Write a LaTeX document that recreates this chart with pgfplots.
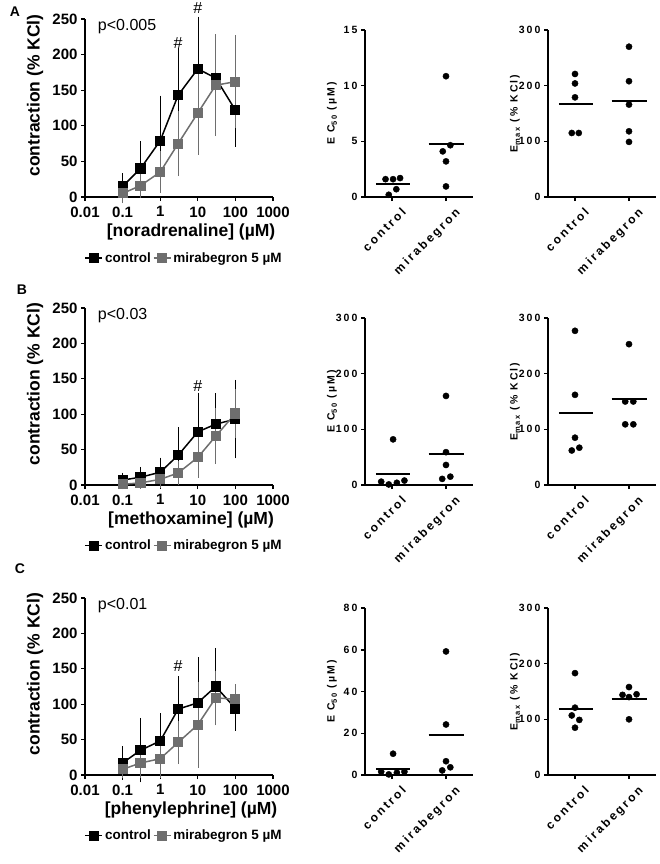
\documentclass[border=0pt]{standalone}
\usepackage{fontspec}
\setmainfont{Liberation Sans}
\newfontfamily\spacedfont[LetterSpace=20]{Liberation Sans}
\usepackage{pgfplots}
\usepackage{pgfplotstable}
\pgfplotsset{compat=1.18}
\definecolor{mgray}{RGB}{110,110,110}

% ---------- Data: concentration-response curves (mean, SD) ----------
\pgfplotstableread{
x y e
0.1 15 15
0.3 40 35
1 79 60
3 143 63
10 180 70
30 167 58
100 122 48
}\ctlA
\pgfplotstableread{
x y e
0.1 5 10
0.3 16 14
1 35 26
3 75 42
10 118 55
30 157 68
100 162 62
}\mirA
\pgfplotstableread{
x y e
0.1 7 7
0.3 11 11
1 18 17
3 42 36
10 75 52
30 86 40
100 93 52
}\ctlB
\pgfplotstableread{
x y e
0.1 1 3
0.3 3 5
1 8 9
3 17 14
10 39 25
30 69 36
100 101 31
}\mirB
\pgfplotstableread{
x y e
0.1 17 20
0.3 35 42
1 48 36
3 93 43
10 102 61
30 125 51
100 94 28
}\ctlC
\pgfplotstableread{
x y e
0.1 8 8
0.3 17 17
1 23 23
3 46 27
10 71 57
30 109 35
100 107 18
}\mirC

\pgfplotsset{
  leftax/.style={
    scale only axis, width=188pt, height=178pt,
    xmin=0.01, xmax=1000, ymin=0, ymax=250,
    axis x line=bottom, axis y line=left,
    axis line style={line width=1.3pt,-},
    tick style={line width=1.3pt,black},
    tick align=outside, major tick length=4pt,
    xminorticks=false, yminorticks=false,
    xtick={0.01,0.1,1,10,100,1000},
    xticklabels={0.01,0.1,1,10,100,1000},
    ytick={0,50,100,150,200,250},
    yticklabels={0,50,100,150,200,250},
    tick label style={font=\bfseries\fontsize{15}{15}\selectfont},
    xticklabel style={yshift=-2pt},
    label style={font=\bfseries\fontsize{17.5}{18}\selectfont},
    ylabel={contraction (\% KCl)},
    ylabel style={at={(rel axis cs:0,0.57)}, anchor=center, yshift=50pt},
    xlabel style={at={(rel axis cs:0.564,0)}, anchor=center, yshift=-35pt},
    clip=false,
    legend columns=2,
    legend style={at={(0.527,-0.343)}, anchor=center, draw=none, fill=none,
      font=\bfseries\fontsize{13.5}{14}\selectfont},
  },
  ctl/.style={black, line width=1.5pt, mark=square*, mark size=4.3pt,
    mark options={solid, fill=black},
    error bars/y dir=both, error bars/y explicit,
    error bars/error bar style={line width=0.6pt, black},
    error bars/error mark options={line width=0.6pt, black, mark size=2.5pt}},
  mir/.style={mgray, line width=1.5pt, mark=square*, mark size=4.3pt,
    mark options={solid, fill=mgray},
    error bars/y dir=both, error bars/y explicit,
    error bars/error bar style={line width=0.6pt, mgray},
    error bars/error mark options={line width=0.6pt, mgray, mark size=2.5pt}},
  rightax/.style={
    scale only axis, width=108pt, height=167pt,
    xmin=0.5, xmax=2.5, ymin=0,
    axis x line=bottom, axis y line=left,
    axis line style={line width=1.9pt,-},
    tick style={line width=1.5pt,black},
    tick align=outside, major tick length=4pt,
    xtick={1,2}, xticklabels={control,mirabegron},
    xticklabel style={rotate=45, anchor=north east, inner sep=0pt,
      yshift=-10pt, xshift=2pt,
      font=\spacedfont\bfseries\fontsize{12}{12}\selectfont},
    yticklabel style={font=\spacedfont\bfseries\fontsize{10.5}{10.5}\selectfont},
    ylabel style={at={(rel axis cs:0,0.5)}, anchor=center, yshift=33pt,
      font=\spacedfont\bfseries\fontsize{10.5}{12}\selectfont},
    clip=false,
  },
  dots/.style={only marks, mark=*, mark size=3.1pt, black},
  meanline/.style={black, line width=2pt},
}
\newcommand{\ecl}{E C\raisebox{-0.4ex}{\fontsize{7.5}{7.5}\selectfont 50} (µM)}
\newcommand{\eml}{E\raisebox{-0.4ex}{\fontsize{7.5}{7.5}\selectfont max} (\% KCl)}

\begin{document}
\begin{tikzpicture}
\useasboundingbox (0,0) rectangle (659pt,-864pt);

% panel letters
\node[font=\bfseries\fontsize{14}{14}\selectfont] at (15pt,-12pt) {A};
\node[font=\bfseries\fontsize{14}{14}\selectfont] at (22pt,-290pt) {B};
\node[font=\bfseries\fontsize{14}{14}\selectfont] at (20pt,-569pt) {C};

% ================= Row A =================
\begin{axis}[xmode=log, leftax, at={(85pt,-197pt)}, anchor=south west,
  xlabel={[noradrenaline] (µM)}]
\addplot+[ctl] table[x=x,y=y,y error=e] {\ctlA};
\addlegendentry{control}
\addplot+[mir] table[x=x,y=y,y error=e] {\mirA};
\addlegendentry{mirabegron 5 µM}
\node[anchor=west, font=\fontsize{16}{16}\selectfont] at (rel axis cs:0.05,0.955) {p<0.005};
\node[font=\fontsize{16}{16}\selectfont] at (axis cs:3,216) {\#};
\node[font=\fontsize{16}{16}\selectfont] at (axis cs:10,265) {\#};
\end{axis}

\begin{axis}[rightax, at={(365pt,-197pt)}, anchor=south west,
  ymax=15, ytick={0,5,10,15}, yticklabels={0,5,10,15}, ylabel={\ecl}]
\addplot[dots] coordinates {(0.88,1.6) (1.02,1.6) (1.15,1.7) (1.08,0.7) (0.94,0.2)
  (2,10.85) (1.94,4.1) (2.08,4.65) (2,3.2) (2,0.95)};
\addplot[meanline] coordinates {(0.7,1.17) (1.33,1.17)};
\addplot[meanline] coordinates {(1.68,4.75) (2.33,4.75)};
\end{axis}

\begin{axis}[rightax, at={(548pt,-197pt)}, anchor=south west,
  ymax=300, ytick={0,100,200,300}, yticklabels={0,100,200,300}, ylabel={\eml}]
\addplot[dots] coordinates {(1,221) (1,204) (1,179) (0.94,115) (1.07,115)
  (2,270) (2,208) (2,166) (2,118) (2,99)};
\addplot[meanline] coordinates {(0.7,167) (1.33,167)};
\addplot[meanline] coordinates {(1.68,173) (2.33,173)};
\end{axis}

% ================= Row B =================
\begin{axis}[xmode=log, leftax, at={(85pt,-485pt)}, anchor=south west, height=177pt,
  xlabel={[methoxamine] (µM)}]
\addplot+[ctl] table[x=x,y=y,y error=e] {\ctlB};
\addlegendentry{control}
\addplot+[mir] table[x=x,y=y,y error=e] {\mirB};
\addlegendentry{mirabegron 5 µM}
\node[anchor=west, font=\fontsize{16}{16}\selectfont] at (rel axis cs:0.05,0.955) {p<0.03};
\node[font=\fontsize{16}{16}\selectfont] at (axis cs:10,140) {\#};
\end{axis}

\begin{axis}[rightax, at={(365pt,-485pt)}, anchor=south west,
  ymax=300, ytick={0,100,200,300}, yticklabels={0,100,200,300}, ylabel={\ecl}]
\addplot[dots] coordinates {(1.02,82) (0.8,6) (0.94,1) (1.09,4) (1.23,8)
  (2,160) (2,59) (2,36) (1.93,11) (2.08,15)};
\addplot[meanline] coordinates {(0.7,20) (1.33,20)};
\addplot[meanline] coordinates {(1.68,56) (2.33,56)};
\end{axis}

\begin{axis}[rightax, at={(548pt,-485pt)}, anchor=south west,
  ymax=300, ytick={0,100,200,300}, yticklabels={0,100,200,300}, ylabel={\eml}]
\addplot[dots] coordinates {(1,277) (1,162) (1,85) (0.94,62) (1.08,67)
  (2,253) (1.93,150) (2.08,150) (1.93,109) (2.08,109)};
\addplot[meanline] coordinates {(0.7,130) (1.33,130)};
\addplot[meanline] coordinates {(1.68,154) (2.33,154)};
\end{axis}

% ================= Row C =================
\begin{axis}[xmode=log, leftax, at={(85pt,-775pt)}, anchor=south west, height=177pt,
  xlabel={[phenylephrine] (µM)}]
\addplot+[ctl] table[x=x,y=y,y error=e] {\ctlC};
\addlegendentry{control}
\addplot+[mir] table[x=x,y=y,y error=e] {\mirC};
\addlegendentry{mirabegron 5 µM}
\node[anchor=west, font=\fontsize{16}{16}\selectfont] at (rel axis cs:0.05,0.955) {p<0.01};
\node[font=\fontsize{16}{16}\selectfont] at (axis cs:3,154) {\#};
\end{axis}

\begin{axis}[rightax, at={(365pt,-775pt)}, anchor=south west,
  ymax=80, ytick={0,20,40,60,80}, yticklabels={0,20,40,60,80}, ylabel={\ecl}]
\addplot[dots] coordinates {(1.02,10.2) (0.8,1.6) (0.94,0.3) (1.09,1.1) (1.23,1.6)
  (2,59.2) (2,24.2) (2,6.6) (1.93,2.2) (2.08,3.7)};
\addplot[meanline] coordinates {(0.7,2.9) (1.33,2.9)};
\addplot[meanline] coordinates {(1.68,19.2) (2.33,19.2)};
\end{axis}

\begin{axis}[rightax, at={(548pt,-775pt)}, anchor=south west,
  ymax=300, ytick={0,100,200,300}, yticklabels={0,100,200,300}, ylabel={\eml}]
\addplot[dots] coordinates {(1,183) (1,121) (0.94,107) (1.08,99) (1,85)
  (2,158) (1.88,144) (2.14,145) (2,140) (2,100)};
\addplot[meanline] coordinates {(0.7,119) (1.33,119)};
\addplot[meanline] coordinates {(1.68,137) (2.33,137)};
\end{axis}
\end{tikzpicture}
\end{document}
